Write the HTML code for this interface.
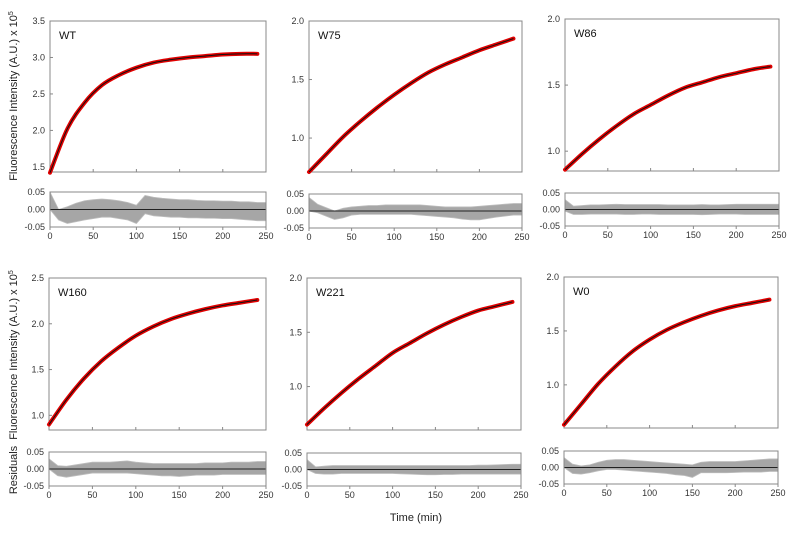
<!DOCTYPE html>
<html><head><meta charset="utf-8"><style>
body{margin:0;background:#fff}
svg{display:block;font-family:"Liberation Sans",Arial,sans-serif}
</style></head><body>
<svg id="chart" width="800" height="534" viewBox="0 0 800 534">
<text transform="translate(17,96) rotate(-90)" text-anchor="middle" font-size="11" fill="#222">Fluorescence  Intensity (A.U.) x 10<tspan font-size="7" dy="-4">5</tspan></text>
<text transform="translate(17,355) rotate(-90)" text-anchor="middle" font-size="11" fill="#222">Fluorescence  Intensity (A.U.) x 10<tspan font-size="7" dy="-4">5</tspan></text>
<text transform="translate(17,470) rotate(-90)" text-anchor="middle" font-size="11" fill="#222">Residuals</text>
<text x="416" y="521" text-anchor="middle" font-size="11" fill="#222">Time (min)</text>
</svg>
<script>
const times = [0,20,40,60,80,100,120,140,160,180,200,220,240];
const residTimes = [0,10,20,30,40,50,60,70,80,90,100,110,120,130,140,150,160,170,180,190,200,210,220,230,240,250];
const names = ["WT","W75","W86","W160","W221","W0"];
const wtValues = [1.42,2.02,2.38,2.62,2.76,2.86,2.93,2.97,3.0,3.02,3.04,3.05,3.05];
const w75Values = [0.71,0.86,1.01,1.14,1.26,1.37,1.47,1.56,1.63,1.69,1.75,1.80,1.85];
const w86Values = [0.86,0.98,1.09,1.19,1.28,1.35,1.42,1.48,1.52,1.56,1.59,1.62,1.64];
const w160Values = [0.9,1.17,1.4,1.59,1.74,1.87,1.97,2.05,2.11,2.16,2.20,2.23,2.26];
const w221Values = [0.65,0.80,0.94,1.07,1.19,1.31,1.40,1.49,1.57,1.64,1.70,1.74,1.78];
const w0Values = [0.63,0.82,1.01,1.17,1.31,1.42,1.51,1.58,1.64,1.69,1.73,1.76,1.79];
const yTicksWT = ["1.5","2.0","2.5","3.0","3.5"];
const yTicksLow = ["1.0","1.5","2.0"];
const yTicks160 = ["1.0","1.5","2.0","2.5"];
const xTicks = ["0","50","100","150","200","250"];
const residTicks = ["0.05","0.00","-0.05"];
const wtResHi = [0.05,0.0,0.008,0.018,0.025,0.028,0.03,0.028,0.025,0.02,0.012,0.04,0.035,0.032,0.03,0.028,0.028,0.026,0.025,0.025,0.024,0.024,0.022,0.022,0.02,0.02];
const wtResLo = [0.0,-0.03,-0.04,-0.035,-0.03,-0.026,-0.022,-0.022,-0.026,-0.03,-0.04,-0.012,-0.018,-0.02,-0.022,-0.022,-0.024,-0.024,-0.025,-0.025,-0.026,-0.026,-0.028,-0.03,-0.032,-0.032];
const w75ResHi = [0.04,0.02,0.01,0.0,0.008,0.012,0.014,0.016,0.016,0.018,0.018,0.018,0.018,0.018,0.016,0.014,0.012,0.012,0.012,0.012,0.014,0.016,0.018,0.02,0.022,0.022];
const w75ResLo = [0.0,-0.005,-0.015,-0.025,-0.02,-0.012,-0.01,-0.01,-0.01,-0.01,-0.01,-0.01,-0.01,-0.012,-0.014,-0.016,-0.018,-0.02,-0.024,-0.026,-0.026,-0.022,-0.018,-0.015,-0.012,-0.012];
const w86ResHi = [0.03,0.01,0.012,0.014,0.014,0.015,0.016,0.015,0.015,0.015,0.015,0.015,0.014,0.014,0.014,0.014,0.015,0.014,0.014,0.015,0.016,0.016,0.016,0.016,0.016,0.016];
const w86ResLo = [-0.005,-0.015,-0.015,-0.014,-0.014,-0.014,-0.014,-0.015,-0.015,-0.014,-0.014,-0.015,-0.015,-0.015,-0.015,-0.015,-0.016,-0.015,-0.014,-0.014,-0.014,-0.015,-0.015,-0.015,-0.015,-0.015];
const w160ResHi = [0.03,0.01,0.008,0.012,0.016,0.02,0.02,0.02,0.022,0.024,0.02,0.018,0.016,0.016,0.016,0.016,0.016,0.016,0.018,0.018,0.018,0.02,0.02,0.02,0.022,0.022];
const w160ResLo = [0.0,-0.02,-0.024,-0.02,-0.016,-0.012,-0.012,-0.012,-0.012,-0.012,-0.014,-0.016,-0.018,-0.02,-0.02,-0.022,-0.02,-0.018,-0.018,-0.018,-0.016,-0.016,-0.016,-0.016,-0.016,-0.016];
const w221ResHi = [0.03,0.008,0.01,0.012,0.012,0.012,0.012,0.012,0.012,0.012,0.012,0.012,0.012,0.012,0.012,0.012,0.012,0.012,0.012,0.012,0.013,0.013,0.014,0.015,0.016,0.016];
const w221ResLo = [0.0,-0.012,-0.014,-0.014,-0.012,-0.012,-0.012,-0.012,-0.012,-0.012,-0.012,-0.013,-0.014,-0.015,-0.016,-0.016,-0.015,-0.015,-0.014,-0.014,-0.014,-0.014,-0.014,-0.014,-0.014,-0.014];
const w0ResHi = [0.03,0.01,0.005,0.008,0.016,0.022,0.024,0.024,0.022,0.02,0.018,0.016,0.014,0.012,0.01,0.008,0.016,0.018,0.018,0.018,0.018,0.02,0.022,0.024,0.026,0.026];
const w0ResLo = [0.0,-0.018,-0.02,-0.016,-0.01,-0.006,-0.006,-0.008,-0.01,-0.012,-0.014,-0.016,-0.018,-0.022,-0.024,-0.03,-0.016,-0.016,-0.016,-0.016,-0.015,-0.014,-0.014,-0.014,-0.012,-0.012];

const panels = [
 {vals:wtValues,hi:wtResHi,lo:wtResLo,x0:50,x1:266,top:21,bot:172,ymin:1.43,ymax:3.5,ticks:yTicksWT,rt:192,rb:227},
 {vals:w75Values,hi:w75ResHi,lo:w75ResLo,x0:309,x1:522,top:21,bot:172,ymin:0.71,ymax:2.0,ticks:yTicksLow,rt:194,rb:228},
 {vals:w86Values,hi:w86ResHi,lo:w86ResLo,x0:565,x1:779,top:19,bot:171,ymin:0.85,ymax:2.0,ticks:yTicksLow,rt:193,rb:226},
 {vals:w160Values,hi:w160ResHi,lo:w160ResLo,x0:49,x1:266,top:278,bot:430,ymin:0.84,ymax:2.5,ticks:yTicks160,rt:452,rb:486},
 {vals:w221Values,hi:w221ResHi,lo:w221ResLo,x0:307,x1:521,top:278,bot:430,ymin:0.6,ymax:2.0,ticks:yTicksLow,rt:453,rb:486},
 {vals:w0Values,hi:w0ResHi,lo:w0ResLo,x0:564,x1:778,top:277,bot:428,ymin:0.6,ymax:2.0,ticks:yTicksLow,rt:451,rb:484}
];
const NS="http://www.w3.org/2000/svg";
const svg=document.getElementById('chart');
function mk(tag,attrs,parent){const e=document.createElementNS(NS,tag);for(const k in attrs)e.setAttribute(k,attrs[k]);(parent||svg).appendChild(e);return e;}
function smooth(P){
  let d='M'+P[0][0]+','+P[0][1];
  for(let i=0;i<P.length-1;i++){
    const p0=P[i-1]||P[i],p1=P[i],p2=P[i+1],p3=P[i+2]||P[i+1];
    const c1=[p1[0]+(p2[0]-p0[0])/6,p1[1]+(p2[1]-p0[1])/6];
    const c2=[p2[0]-(p3[0]-p1[0])/6,p2[1]-(p3[1]-p1[1])/6];
    d+=' C'+c1[0]+','+c1[1]+' '+c2[0]+','+c2[1]+' '+p2[0]+','+p2[1];
  }
  return d;
}
panels.forEach((p,i)=>{
  const g=mk('g',{});
  
  
  const xs=t=>p.x0+(t/250)*(p.x1-p.x0);
  const ys=v=>p.bot-(v-p.ymin)/(p.ymax-p.ymin)*(p.bot-p.top);
  const ry=v=>p.rt+(0.05-v)/0.1*(p.rb-p.rt);
  const frame=mk('rect',{x:p.x0,y:p.top,width:p.x1-p.x0,height:p.bot-p.top,fill:'none',stroke:'#888','stroke-width':1},g);
  
  
  p.ticks.forEach(t=>{
    const y=ys(parseFloat(t));
    const lab=mk('text',{x:p.x0-5,y:y+3,'text-anchor':'end','font-size':9,fill:'#333'},g);
    lab.textContent=t;
    
    
    mk('line',{x1:p.x0,x2:p.x0+3,y1:y,y2:y,stroke:'#888'},g);
  });
  xTicks.forEach(t=>{const x=xs(parseFloat(t));mk('line',{x1:x,x2:x,y1:p.bot,y2:p.bot-3,stroke:'#888'},g);});
  const P=p.vals.map((v,j)=>[xs(times[j]),ys(v)]);
  const d=smooth(P);
  const data=mk('path',{d:d,fill:'none',stroke:'#e00000','stroke-width':4,'stroke-linecap':'round'},g);
  
  
  const fit=mk('path',{d:d,fill:'none',stroke:'#111','stroke-width':1},g);
  
  
  const lbl=mk('text',{x:p.x0+9,y:p.top+18,'font-size':11,fill:'#111'},g);
  lbl.textContent=names[i];
  
  
  const band=p.hi.map((v,j)=>xs(residTimes[j])+','+ry(v)).concat(p.lo.map((v,j)=>xs(residTimes[j])+','+ry(v)).reverse()).join(' ');
  const rb=mk('polygon',{points:band,fill:'#a6a6a6',stroke:'#bdbdbd','stroke-width':0.8},g);
  
  
  mk('line',{x1:p.x0,x2:p.x1,y1:ry(0),y2:ry(0),stroke:'#222','stroke-width':1},g);
  const rf=mk('rect',{x:p.x0,y:p.rt,width:p.x1-p.x0,height:p.rb-p.rt,fill:'none',stroke:'#888'},g);
  
  
  residTicks.forEach(t=>{
    const lab=mk('text',{x:p.x0-5,y:ry(parseFloat(t))+3,'text-anchor':'end','font-size':9,fill:'#333'},g);
    lab.textContent=t;
    
    
  });
  xTicks.forEach(t=>{
    const x=xs(parseFloat(t));
    mk('line',{x1:x,x2:x,y1:p.rb,y2:p.rb+3,stroke:'#888'},g);
    const lab=mk('text',{x:x,y:p.rb+12,'text-anchor':'middle','font-size':9,fill:'#333'},g);
    lab.textContent=t;
    
    
  });
});
</script>
</body></html>
